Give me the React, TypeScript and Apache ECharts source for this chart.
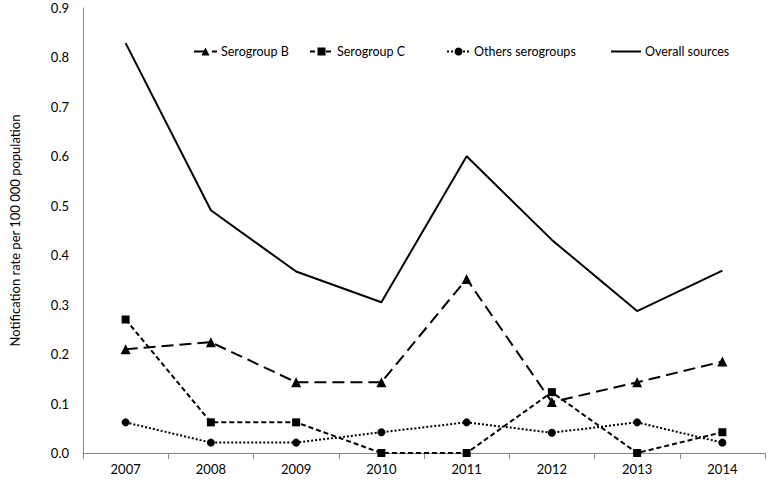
import React, { useEffect, useRef } from "react";
import * as echarts from "echarts";

const years = ["2007", "2008", "2009", "2010", "2011", "2012", "2013", "2014"];
const serogroupB = [0.21, 0.224, 0.143, 0.143, 0.352, 0.103, 0.143, 0.185];
const serogroupC = [0.27, 0.062, 0.062, 0, 0, 0.123, 0, 0.042];
const othersSerogroups = [0.062, 0.021, 0.021, 0.042, 0.062, 0.041, 0.062, 0.021];
const overallSources = [0.829, 0.491, 0.367, 0.305, 0.6, 0.431, 0.287, 0.369];
const legendNames = ["Serogroup B", "Serogroup C", "Others serogroups", "Overall sources"];

const FONT = "Lato";

export default function App() {
  const ref = useRef<HTMLDivElement>(null);
  useEffect(() => {
    if (!ref.current) return;
    const chart = echarts.init(ref.current, undefined, { renderer: "svg" });
    const legendLefts = [193, 309, 446, 611];
    const legendBase = {
      top: 45,
      itemWidth: 23,
      itemHeight: 10,
      itemGap: 0,
      padding: 0,
      textStyle: { fontFamily: FONT, fontSize: 12.5, color: "#000", padding: [0, 0, 0, -1] },
    };
    chart.setOption({
      animation: false,
      backgroundColor: "#ffffff",
      textStyle: { fontFamily: FONT },
      grid: { left: 61, right: 3, top: 8, bottom: 27 },
      legend: legendNames.map((n, i) =>
        i === 3
          ? {
              ...legendBase,
              left: legendLefts[i],
              itemWidth: 30,
              itemHeight: 2,
              data: [{ name: n, icon: "rect" }],
            }
          : { ...legendBase, left: legendLefts[i], data: [n] }
      ),
      xAxis: {
        type: "category",
        data: years,
        boundaryGap: true,
        axisLine: { lineStyle: { color: "#868686", width: 1 } },
        axisTick: { show: true, length: 6, lineStyle: { color: "#868686" } },
        axisLabel: { color: "#000", fontSize: 13, fontFamily: FONT, margin: 9 },
        splitLine: { show: false },
      },
      yAxis: {
        type: "value",
        min: 0,
        max: 0.9,
        interval: 0.1,
        name: "Notification rate per 100 000 population",
        nameLocation: "middle",
        nameGap: 62,
        nameTextStyle: { color: "#000", fontSize: 13, fontFamily: FONT },
        axisLine: { show: true, lineStyle: { color: "#868686", width: 1 } },
        axisTick: { show: false },
        splitLine: { show: false },
        axisLabel: {
          color: "#000",
          fontSize: 13,
          fontFamily: FONT,
          margin: 14,
          formatter: (v: number) => v.toFixed(1),
        },
      },
      series: [
        {
          name: "Serogroup B",
          type: "line",
          data: serogroupB,
          symbol: "triangle",
          symbolSize: 10,
          itemStyle: { color: "#000" },
          lineStyle: { color: "#000", width: 2, type: [12, 6] },
        },
        {
          name: "Serogroup C",
          type: "line",
          data: serogroupC,
          symbol: "rect",
          symbolSize: 8,
          itemStyle: { color: "#000" },
          lineStyle: { color: "#000", width: 2, type: [5, 3] },
        },
        {
          name: "Others serogroups",
          type: "line",
          data: othersSerogroups,
          symbol: "circle",
          symbolSize: 8,
          itemStyle: { color: "#000" },
          lineStyle: { color: "#000", width: 2, type: [2, 2] },
        },
        {
          name: "Overall sources",
          type: "line",
          data: overallSources,
          symbol: "none",
          itemStyle: { color: "#000" },
          lineStyle: { color: "#000", width: 2, type: "solid" },
        },
      ],
    });
    return () => chart.dispose();
  }, []);
  return <div ref={ref} style={{ width: 768, height: 480, position: "absolute", left: 0, top: 0 }} />;
}
